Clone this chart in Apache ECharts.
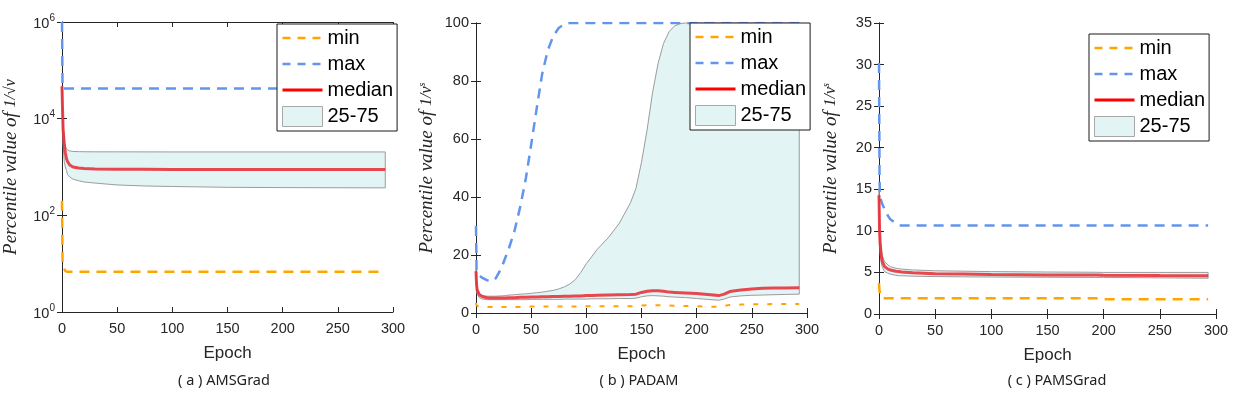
<!DOCTYPE html>
<html><head><meta charset="utf-8">
<script src="https://cdn.jsdelivr.net/npm/echarts@6/dist/echarts.min.js"></script>
<style>html,body{margin:0;padding:0;background:#fff}#c{width:1249px;height:406px}</style>
</head><body><div id="c"></div>
<script>
// ---- data ----
const xTicks = [0, 50, 100, 150, 200, 250, 300];
const aTicks = [1, 1e2, 1e4, 1e6];
const aEpoch = [0, 0.5, 1, 2, 3, 4, 5, 7, 10, 15, 20, 30, 50, 75, 100, 150, 200, 250, 293];
const aMax = [1e6, 4.2e4, 4.2e4, 4.2e4, 4.2e4, 4.2e4, 4.2e4, 4.2e4, 4.2e4, 4.2e4, 4.2e4, 4.2e4, 4.2e4, 4.2e4, 4.2e4, 4.2e4, 4.2e4, 4.2e4, 4.2e4];
const aMin = [200, 12, 10, 8, 7, 6.8, 6.8, 6.8, 6.8, 6.8, 6.8, 6.8, 6.8, 6.8, 6.8, 6.8, 6.8, 6.8, 6.8];
const aMedian = [4.7e4, 1.5e4, 6000, 3000, 2000, 1500, 1300, 1100, 1000, 950, 930, 910, 900, 895, 890, 890, 890, 890, 890];
const aUpper = [4.7e4, 2e4, 9000, 4000, 2700, 2400, 2250, 2150, 2100, 2080, 2070, 2060, 2060, 2055, 2050, 2050, 2050, 2050, 2050];
const aLower = [4.6e4, 8000, 3000, 1300, 1000, 850, 700, 620, 560, 520, 490, 465, 425, 405, 395, 380, 375, 372, 370];

const bEpoch = [0, 0.5, 1, 3, 5, 8, 10, 14, 18, 23, 27, 30, 35, 40, 45, 50, 55, 60, 65, 70, 75, 80, 85, 90, 95, 100, 105, 110, 120, 130, 140, 145, 150, 155, 160, 165, 170, 175, 180, 185, 190, 200, 210, 220, 225, 230, 240, 250, 260, 270, 280, 293];
const bMax = [30, 15, 14, 13, 12.3, 11.7, 11.3, 10.9, 12, 15.5, 19.5, 22.5, 28.5, 36.5, 46, 58, 70.5, 82.5, 90.5, 95.5, 98.3, 99.6, 100, 100, 100, 100, 100, 100, 100, 100, 100, 100, 100, 100, 100, 100, 100, 100, 100, 100, 100, 100, 100, 100, 100, 100, 100, 100, 100, 100, 100, 100];
const bMedian = [14.4, 10, 8, 6.3, 5.8, 5.4, 5.3, 5.2, 5.2, 5.2, 5.2, 5.3, 5.3, 5.4, 5.4, 5.5, 5.5, 5.6, 5.6, 5.7, 5.7, 5.8, 5.8, 5.9, 5.9, 6.0, 6.0, 6.1, 6.2, 6.3, 6.4, 6.5, 7.1, 7.5, 7.7, 7.7, 7.5, 7.2, 7.1, 7.0, 6.9, 6.7, 6.4, 6.0, 6.5, 7.4, 7.9, 8.3, 8.5, 8.6, 8.6, 8.7];
const bUpper = [15, 11, 8.5, 6.8, 6.2, 5.9, 5.8, 5.8, 5.8, 5.9, 6.0, 6.2, 6.3, 6.5, 6.6, 6.8, 7.0, 7.2, 7.5, 7.8, 8.3, 9.0, 10, 11.5, 14, 17, 19.5, 22, 26, 31, 38, 43, 52, 63, 76, 86, 93, 97, 99, 99.8, 100, 100, 100, 100, 100, 100, 100, 100, 100, 100, 100, 100];
const bLower = [13, 8, 6.5, 5.3, 4.9, 4.7, 4.6, 4.6, 4.6, 4.6, 4.6, 4.6, 4.6, 4.6, 4.6, 4.7, 4.7, 4.7, 4.7, 4.7, 4.7, 4.8, 4.8, 4.8, 4.8, 4.8, 4.9, 4.9, 4.9, 5.0, 5.0, 5.1, 5.6, 5.9, 6.0, 5.9, 5.8, 5.6, 5.5, 5.4, 5.3, 5.0, 4.7, 4.4, 4.8, 5.5, 5.9, 6.1, 6.2, 6.3, 6.4, 6.5];
const bMin = [3.5, 2.6, 2.3, 2.1, 2.1, 2.1, 2.1, 2.1, 2.1, 2.1, 2.1, 2.1, 2.1, 2.1, 2.2, 2.2, 2.2, 2.2, 2.2, 2.2, 2.2, 2.2, 2.2, 2.2, 2.3, 2.3, 2.3, 2.3, 2.3, 2.3, 2.3, 2.4, 2.6, 2.7, 2.7, 2.7, 2.6, 2.6, 2.5, 2.5, 2.4, 2.3, 2.2, 2.1, 2.4, 2.8, 2.9, 3.0, 3.0, 3.1, 3.1, 3.1];

const cEpoch = [0, 0.5, 1, 2, 3, 5, 8, 10, 15, 18, 20, 30, 50, 75, 100, 150, 193, 200, 250, 293];
const cMax = [30.2, 16, 14, 13.6, 13.2, 12.6, 11.8, 11.4, 10.9, 10.65, 10.65, 10.65, 10.65, 10.65, 10.65, 10.65, 10.65, 10.65, 10.65, 10.65];
const cMin = [3.7, 2.7, 2.3, 2.0, 1.92, 1.9, 1.9, 1.9, 1.9, 1.9, 1.9, 1.9, 1.9, 1.9, 1.9, 1.9, 1.9, 1.78, 1.78, 1.78];
const cMedian = [14.3, 10, 8.5, 7, 6.3, 5.7, 5.4, 5.3, 5.15, 5.1, 5.05, 4.95, 4.85, 4.8, 4.75, 4.7, 4.68, 4.66, 4.62, 4.6];
const cUpper = [15, 11, 9.3, 7.8, 7, 6.3, 5.9, 5.7, 5.5, 5.45, 5.4, 5.3, 5.2, 5.15, 5.1, 5.05, 5.02, 5.0, 5.0, 5.0];
const cLower = [13.5, 9, 7.5, 6.2, 5.6, 5.1, 4.9, 4.8, 4.65, 4.6, 4.6, 4.55, 4.5, 4.47, 4.45, 4.42, 4.4, 4.4, 4.35, 4.3];

const captions = ['( a ) AMSGrad', '( b ) PADAM', '( c ) PAMSGrad'];
const legendNames = ['min', 'max', 'median', '25-75'];

// ---- styling ----
const AX = '#262626';
const ORANGE = '#FFA500';
const BLUE = '#6495ED';
const RED = 'rgba(232,40,48,0.85)';
const FILL = '#e3f4f4';
const EDGE = '#9c9c9c';
const SANS = 'Liberation Sans';
const SERIF = 'Liberation Serif';

function pairs(xs, ys) { return xs.map((x, i) => [x, ys[i]]); }

function xAxes(gi) {
  const base = {
    type: 'value', gridIndex: gi, min: 0, max: 300, interval: 50,
    axisLine: { show: true, lineStyle: { color: AX, width: 1 } },
    axisTick: { show: true, inside: true, length: 5, lineStyle: { color: AX } },
    splitLine: { show: false }
  };
  return [
    Object.assign({}, base, {
      position: 'bottom',
      axisLabel: { show: true, color: AX, fontSize: 14.5, fontFamily: SANS, margin: 9, customValues: xTicks },
      name: 'Epoch', nameLocation: 'middle', nameGap: 33,
      nameTextStyle: { color: AX, fontSize: 17, fontFamily: SANS }
    }),
    Object.assign({}, base, { position: 'top', axisLabel: { show: false } })
  ];
}

function nameStyle() {
  return {
    color: AX, fontFamily: SERIF, fontStyle: 'italic', fontSize: 19,
    rich: {
      t: { fontFamily: SERIF, fontStyle: 'italic', fontSize: 19, color: AX },
      f: { fontFamily: SERIF, fontStyle: 'italic', fontSize: 16, color: AX },
      s: { fontFamily: SERIF, fontStyle: 'italic', fontSize: 10, color: AX, verticalAlign: 'top' }
    }
  };
}

function yAxesLinear(gi, max, interval, name, gap) {
  const base = {
    type: 'value', gridIndex: gi, min: 0, max: max, interval: interval,
    axisLine: { show: true, lineStyle: { color: AX, width: 1 } },
    axisTick: { show: true, inside: true, length: 5, lineStyle: { color: AX } },
    splitLine: { show: false }
  };
  return [
    Object.assign({}, base, {
      position: 'left',
      axisLabel: { show: true, color: AX, fontSize: 14.5, fontFamily: SANS, margin: 7 },
      name: name, nameLocation: 'middle', nameGap: gap, nameRotate: 90,
      nameTextStyle: nameStyle()
    }),
    Object.assign({}, base, { position: 'right', axisLabel: { show: false } })
  ];
}

function yAxesLog(gi) {
  const base = {
    type: 'log', logBase: 10, gridIndex: gi, min: 1, max: 1e6,
    axisLine: { show: true, lineStyle: { color: AX, width: 1 } },
    axisTick: { show: true, inside: true, length: 5, lineStyle: { color: AX }, customValues: aTicks },
    splitLine: { show: false }
  };
  return [
    Object.assign({}, base, {
      position: 'left',
      axisLabel: {
        show: true, margin: 7, customValues: aTicks,
        formatter: v => '{b|10}{s|' + Math.round(Math.log10(v)) + '}',
        rich: {
          b: { fontSize: 14.5, fontFamily: SANS, color: AX, lineHeight: 18, verticalAlign: 'bottom' },
          s: { fontSize: 10, fontFamily: SANS, color: AX, lineHeight: 18, verticalAlign: 'top' }
        }
      },
      name: '{t|Percentile value of }{f|1/√v}', nameLocation: 'middle', nameGap: 42, nameRotate: 90,
      nameTextStyle: nameStyle()
    }),
    Object.assign({}, base, { position: 'right', axisLabel: { show: false } })
  ];
}

function lineSeries(name, gi, xs, ys, color, dash, width, z) {
  return {
    type: 'line', name: name, xAxisIndex: gi * 2, yAxisIndex: gi * 2,
    data: pairs(xs, ys), symbol: 'circle', symbolSize: 0, showSymbol: false,
    lineStyle: { color: color, width: width, type: dash },
    itemStyle: { color: color },
    z: z, silent: true, animation: false
  };
}

function bandSeries(gi, xs, lo, hi) {
  return {
    type: 'custom', name: '25-75', xAxisIndex: gi * 2, yAxisIndex: gi * 2,
    data: xs.map((x, i) => [x, lo[i], hi[i]]),
    encode: { x: 0, y: [1, 2] },
    itemStyle: { color: FILL, borderColor: EDGE, borderWidth: 1 },
    z: 1, silent: true, animation: false,
    renderItem: function (params, api) {
      if (params.dataIndex !== 0) return null;
      const pts = [];
      for (let i = 0; i < xs.length; i++) pts.push(api.coord([xs[i], hi[i]]));
      for (let i = xs.length - 1; i >= 0; i--) pts.push(api.coord([xs[i], lo[i]]));
      return { type: 'polygon', shape: { points: pts, smooth: 0 }, style: { fill: FILL, stroke: EDGE, lineWidth: 1 } };
    }
  };
}

function legend(left, top) {
  return {
    orient: 'vertical', left: left, top: top,
    backgroundColor: '#fff', borderColor: '#1a1a1a', borderWidth: 1,
    padding: [4, 4, 4, 4], itemWidth: 40, itemHeight: 20, itemGap: 6,
    selectedMode: false,
    textStyle: { color: '#000', fontSize: 20, fontFamily: SANS, lineHeight: 20 },
    data: [
      { name: legendNames[0], itemStyle: { opacity: 0 }, lineStyle: { width: 2.5, color: ORANGE, type: [8, 7] } },
      { name: legendNames[1], itemStyle: { opacity: 0 }, lineStyle: { width: 2.5, color: BLUE, type: [8, 7] } },
      { name: legendNames[2], itemStyle: { opacity: 0 }, lineStyle: { width: 3, color: '#ff0000', type: 'solid' } },
      { name: legendNames[3], icon: 'rect', itemStyle: { opacity: 1, color: FILL, borderColor: '#a8a8a8', borderWidth: 1 } }
    ],
    z: 10
  };
}

const DASH = [10, 7];

const option = {
  animation: false,
  backgroundColor: '#fff',
  grid: [
    { left: 60, right: 856, top: 22, bottom: 94 },
    { left: 476, right: 442, top: 23, bottom: 93 },
    { left: 879, right: 33, top: 23, bottom: 92 }
  ],
  xAxis: [].concat(xAxes(0), xAxes(1), xAxes(2)),
  yAxis: [].concat(
    yAxesLog(0),
    yAxesLinear(1, 100, 20, '{t|Percentile value of }{f|1/v}{s|s}', 40),
    yAxesLinear(2, 35, 5, '{t|Percentile value of }{f|1/v}{s|s}', 39)
  ),
  legend: [legend(277, 24), legend(690, 23), legend(1089, 34)],
  series: [
    bandSeries(0, aEpoch, aLower, aUpper),
    lineSeries(legendNames[0], 0, aEpoch, aMin, ORANGE, DASH, 2.5, 3),
    lineSeries(legendNames[1], 0, aEpoch, aMax, BLUE, DASH, 2.5, 3),
    lineSeries(legendNames[2], 0, aEpoch, aMedian, RED, 'solid', 3, 4),

    bandSeries(1, bEpoch, bLower, bUpper),
    lineSeries(legendNames[0], 1, bEpoch, bMin, ORANGE, [5, 9], 2, 3),
    lineSeries(legendNames[1], 1, bEpoch, bMax, BLUE, DASH, 2.5, 3),
    lineSeries(legendNames[2], 1, bEpoch, bMedian, RED, 'solid', 3, 4),

    bandSeries(2, cEpoch, cLower, cUpper),
    lineSeries(legendNames[0], 2, cEpoch, cMin, ORANGE, DASH, 2.5, 3),
    lineSeries(legendNames[1], 2, cEpoch, cMax, BLUE, DASH, 2.5, 3),
    lineSeries(legendNames[2], 2, cEpoch, cMedian, RED, 'solid', 3, 4)
  ],
  graphic: [
    { type: 'text', x: 224, y: 381, style: { text: captions[0], fill: '#222', font: '14.5px "Noto Sans"', textAlign: 'center', textVerticalAlign: 'middle' } },
    { type: 'text', x: 639, y: 381, style: { text: captions[1], fill: '#222', font: '14.5px "Noto Sans"', textAlign: 'center', textVerticalAlign: 'middle' } },
    { type: 'text', x: 1057, y: 381, style: { text: captions[2], fill: '#222', font: '14.5px "Noto Sans"', textAlign: 'center', textVerticalAlign: 'middle' } }
  ]
};

const chart = echarts.init(document.getElementById('c'), null, { renderer: 'canvas' });
chart.setOption(option);
</script>
</body></html>
